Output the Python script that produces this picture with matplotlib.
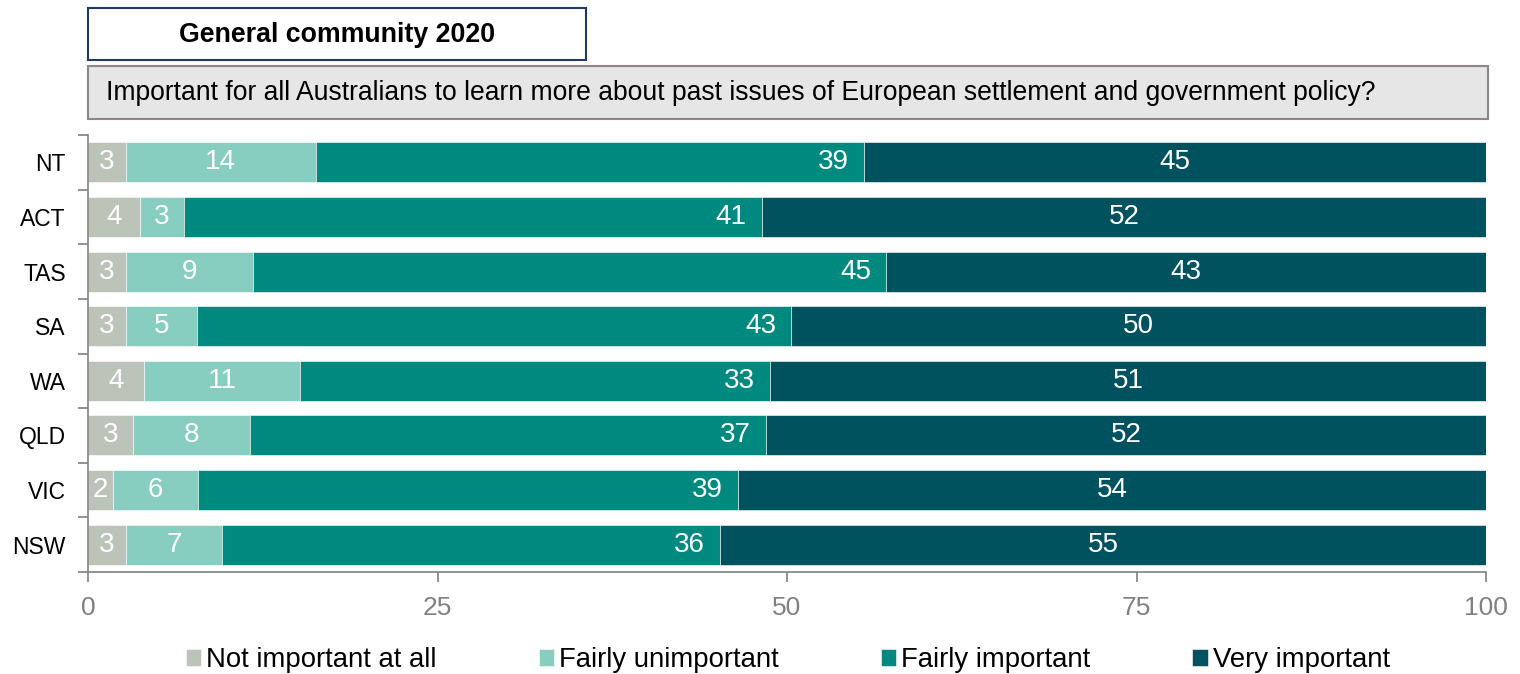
import matplotlib.pyplot as plt
import numpy as np
from matplotlib.patches import Rectangle

plt.rcParams['font.family'] = ['Liberation Sans', 'DejaVu Sans']

states = ['NT', 'ACT', 'TAS', 'SA', 'WA', 'QLD', 'VIC', 'NSW']
not_important = [2.7, 3.7, 2.7, 2.7, 4.0, 3.2, 1.8, 2.7]
fairly_unimportant = [13.6, 3.2, 9.1, 5.1, 11.2, 8.4, 6.1, 6.9]
fairly_important = [39.2, 41.3, 45.3, 42.5, 33.6, 36.9, 38.6, 35.6]
very_important = [44.5, 51.8, 42.9, 49.7, 51.2, 51.5, 53.5, 54.8]
shown_not = [3, 4, 3, 3, 4, 3, 2, 3]
shown_unimp = [14, 3, 9, 5, 11, 8, 6, 7]
shown_imp = [39, 41, 45, 43, 33, 37, 39, 36]
shown_very = [45, 52, 43, 50, 51, 52, 54, 55]

series = ['Not important at all', 'Fairly unimportant', 'Fairly important',
          'Very important']
colors = ['#BCC4BA', '#88CEC0', '#008A7F', '#00525E']


def main():
    fig = plt.figure(figsize=[15.2, 6.74], dpi=100)
    ax = fig.add_axes([88 / 1520, 1 - 572 / 674, 1398 / 1520, 437 / 674])

    y = np.arange(len(states))
    values = [not_important, fairly_unimportant, fairly_important,
              very_important]
    shown = [shown_not, shown_unimp, shown_imp, shown_very]
    left = np.zeros(len(states))
    for i, (vals, name, col) in enumerate(zip(values, series, colors)):
        bars = ax.barh(y, vals, left=left, height=0.73, color=col,
                       label=name, edgecolor='white', linewidth=0.4)
        if i == 2:
            # "fairly important" labels sit at the inside end of the bar
            for yy, l, v, s in zip(y, left, vals, shown[i]):
                ax.annotate(str(s), (l + v, yy), xytext=(-11, 0),
                            textcoords='offset points', ha='right',
                            va='center', color='white', fontsize=20)
        else:
            ax.bar_label(bars, labels=[str(s) for s in shown[i]],
                         label_type='center', color='white', fontsize=20)
        left += np.array(vals)

    ax.set_xlim(0, 100)
    ax.set_ylim(len(states) - 0.5, -0.5)
    ax.set_xticks([0, 25, 50, 75, 100])
    ax.tick_params(axis='x', colors='#808080', labelsize=19, length=7,
                   width=1.2, pad=10)
    ax.set_yticks(y)
    ax.set_yticklabels(states)
    ax.tick_params(axis='y', length=0, labelsize=16.5, pad=16,
                   labelcolor='black')
    # category boundary ticks on the left spine
    ax.set_yticks(np.arange(len(states) + 1) - 0.5, minor=True)
    ax.tick_params(axis='y', which='minor', length=7, width=1.2,
                   color='#808080')
    for s in ['top', 'right']:
        ax.spines[s].set_visible(False)
    for s in ['left', 'bottom']:
        ax.spines[s].set_color('#808080')
        ax.spines[s].set_linewidth(1.2)

    # title box
    fig.patches.append(Rectangle((88 / 1520, 1 - 60 / 674), 498 / 1520,
                                 52 / 674, transform=fig.transFigure,
                                 facecolor='white', edgecolor='#1F3864',
                                 linewidth=1.5))
    fig.text(337 / 1520, 1 - 35 / 674, 'General community 2020',
             ha='center', va='center', fontsize=19.3, fontweight='bold')

    # question box
    fig.patches.append(Rectangle((88 / 1520, 1 - 119 / 674), 1400 / 1520,
                                 53 / 674, transform=fig.transFigure,
                                 facecolor='#E6E6E6', edgecolor='#8C8686',
                                 linewidth=1.5))
    fig.text(106 / 1520, 1 - 93 / 674,
             'Important for all Australians to learn more about past issues '
             'of European settlement and government policy?',
             ha='left', va='center', fontsize=19.1)

    fig.legend(loc='center', bbox_to_anchor=(788 / 1520, 1 - 660 / 674),
               ncol=4, frameon=False, fontsize=19.8, handlelength=0.55,
               handleheight=0.55, handletextpad=0.2, columnspacing=3.7)

    fig.savefig('out.png', dpi=100)


if __name__ == '__main__':
    main()
